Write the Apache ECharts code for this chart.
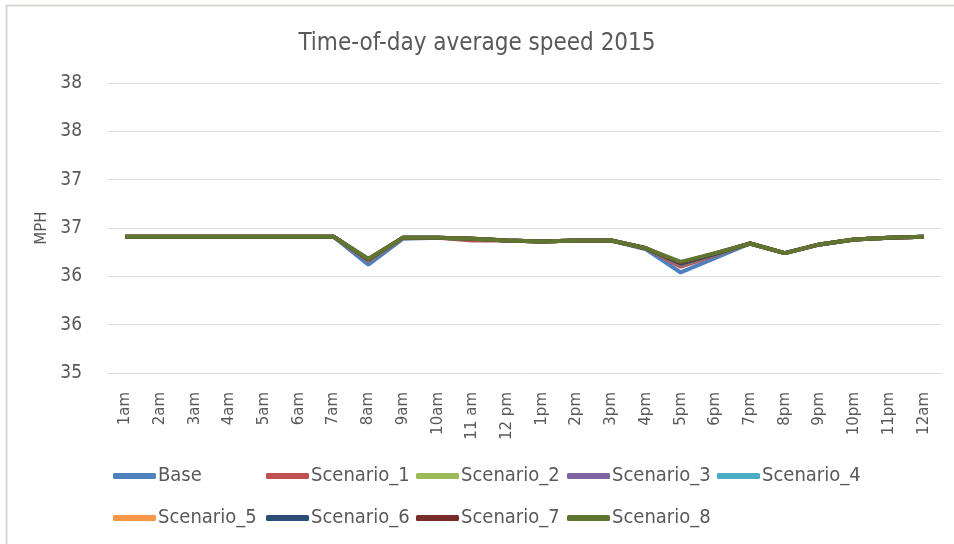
<!DOCTYPE html>
<html>
<head>
<meta charset="utf-8">
<script src="https://cdn.jsdelivr.net/npm/echarts@6/dist/echarts.min.js"></script>
<style>
  html, body { margin: 0; padding: 0; background: #fff; }
  #chart { width: 954px; height: 544px; }
</style>
</head>
<body>
<div id="chart"></div>
<script>
// hours of the day
const hours = ['1am', '2am', '3am', '4am', '5am', '6am', '7am', '8am', '9am', '10am', '11 am', '12 pm',
  '1pm', '2pm', '3pm', '4pm', '5pm', '6pm', '7pm', '8pm', '9pm', '10pm', '11pm', '12am'];

// speeds (MPH)
const base =      [36.41, 36.41, 36.41, 36.41, 36.41, 36.41, 36.41, 36.12, 36.39, 36.40, 36.39, 36.37, 36.36, 36.37, 36.37, 36.28, 36.04, 36.19, 36.34, 36.24, 36.33, 36.38, 36.40, 36.41];
const scenario1 = [36.41, 36.41, 36.41, 36.41, 36.41, 36.41, 36.41, 36.16, 36.40, 36.40, 36.37, 36.37, 36.36, 36.37, 36.37, 36.29, 36.10, 36.22, 36.34, 36.24, 36.33, 36.38, 36.40, 36.41];
const scenario2 = [36.41, 36.41, 36.41, 36.41, 36.41, 36.41, 36.41, 36.17, 36.40, 36.40, 36.39, 36.37, 36.36, 36.37, 36.37, 36.29, 36.12, 36.23, 36.34, 36.24, 36.33, 36.38, 36.40, 36.41];
const scenario3 = [36.41, 36.41, 36.41, 36.41, 36.41, 36.41, 36.41, 36.17, 36.40, 36.40, 36.39, 36.37, 36.36, 36.37, 36.37, 36.29, 36.12, 36.23, 36.34, 36.24, 36.33, 36.38, 36.40, 36.41];
const scenario4 = [36.41, 36.41, 36.41, 36.41, 36.41, 36.41, 36.41, 36.17, 36.40, 36.40, 36.39, 36.37, 36.36, 36.37, 36.37, 36.29, 36.13, 36.23, 36.34, 36.24, 36.33, 36.38, 36.40, 36.41];
const scenario5 = [36.41, 36.41, 36.41, 36.41, 36.41, 36.41, 36.41, 36.17, 36.40, 36.40, 36.39, 36.37, 36.36, 36.37, 36.37, 36.29, 36.13, 36.23, 36.34, 36.24, 36.33, 36.38, 36.40, 36.41];
const scenario6 = [36.41, 36.41, 36.41, 36.41, 36.41, 36.41, 36.41, 36.17, 36.40, 36.40, 36.39, 36.37, 36.36, 36.37, 36.37, 36.29, 36.13, 36.23, 36.34, 36.24, 36.33, 36.38, 36.40, 36.41];
const scenario7 = [36.41, 36.41, 36.41, 36.41, 36.41, 36.41, 36.41, 36.18, 36.40, 36.40, 36.39, 36.37, 36.36, 36.37, 36.37, 36.29, 36.14, 36.24, 36.34, 36.24, 36.33, 36.38, 36.40, 36.41];
const scenario8 = [36.41, 36.41, 36.41, 36.41, 36.41, 36.41, 36.41, 36.18, 36.40, 36.40, 36.39, 36.37, 36.36, 36.37, 36.37, 36.29, 36.15, 36.24, 36.34, 36.24, 36.33, 36.38, 36.40, 36.41];

const seriesNames = ['Base', 'Scenario_1', 'Scenario_2', 'Scenario_3', 'Scenario_4',
  'Scenario_5', 'Scenario_6', 'Scenario_7', 'Scenario_8'];
const seriesData = [base, scenario1, scenario2, scenario3, scenario4,
  scenario5, scenario6, scenario7, scenario8];
const colors = ['#4F81BD', '#C0504D', '#9BBB59', '#8064A2', '#4BACC6',
  '#F79646', '#2C4D75', '#772C2A', '#5F7530'];

const narrow = '"Liberation Sans Narrow", "DejaVu Sans Condensed", "Open Sans", sans-serif';

// legend slots: two rows of fixed-width columns, like the Excel legend
const legendPos = [
  [113, 466], [266, 466], [416, 466], [567, 466], [717, 466],
  [113, 508], [266, 508], [416, 508], [567, 508]
];

const chart = echarts.init(document.getElementById('chart'));

chart.setOption({
  backgroundColor: '#fff',
  animation: false,
  color: colors,
  title: {
    text: 'Time-of-day average speed 2015',
    left: 'center',
    top: 27,
    textStyle: { color: '#595959', fontFamily: narrow, fontSize: 24, fontWeight: 'normal' }
  },
  graphic: [{
    type: 'rect',
    shape: { x: 6.5, y: 5.5, width: 980, height: 560 },
    style: { fill: 'none', stroke: '#DAD5D1', lineWidth: 2 },
    silent: true
  }],
  legend: seriesNames.map((name, i) => ({
    data: [name],
    left: legendPos[i][0],
    top: legendPos[i][1],
    icon: 'roundRect',
    itemWidth: 43,
    itemHeight: 6,
    itemGap: 0,
    padding: 0,
    textStyle: { color: '#595959', fontFamily: narrow, fontSize: 20, padding: [0, 0, 0, -3] }
  })),
  grid: { left: 108, right: 13, top: 83, bottom: 171 },
  xAxis: {
    type: 'category',
    data: hours,
    boundaryGap: true,
    axisLine: { lineStyle: { color: '#D9D9D9', width: 1 } },
    axisTick: { show: false },
    axisLabel: {
      rotate: 90,
      interval: 0,
      margin: 19,
      color: '#595959',
      fontFamily: '"DejaVu Sans", sans-serif',
      fontSize: 15
    }
  },
  yAxis: {
    type: 'value',
    min: 35,
    max: 38,
    interval: 0.5,
    name: 'MPH',
    nameLocation: 'middle',
    nameGap: 52,
    nameTextStyle: { color: '#595959', fontFamily: '"DejaVu Sans", sans-serif', fontSize: 15 },
    axisLine: { show: false },
    axisTick: { show: false },
    splitLine: { lineStyle: { color: '#D9D9D9', width: 1 } },
    axisLabel: {
      margin: 26,
      color: '#595959',
      fontFamily: narrow,
      fontSize: 19,
      formatter: v => Math.round(v)
    }
  },
  series: seriesNames.map((name, i) => ({
    name,
    type: 'line',
    data: seriesData[i],
    showSymbol: false,
    lineStyle: { width: 4, color: colors[i] },
    itemStyle: { color: colors[i] },
    z: 2 + i
  }))
});
</script>
</body>
</html>
